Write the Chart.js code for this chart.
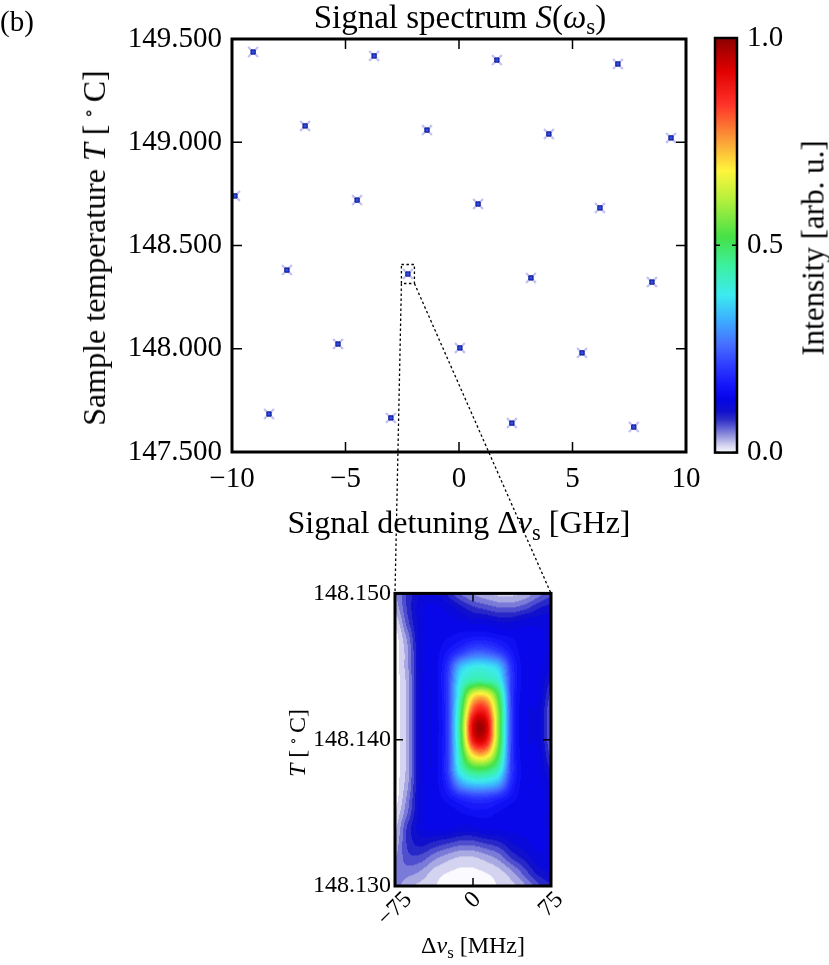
<!DOCTYPE html>
<html>
<head>
<meta charset="utf-8">
<script src="https://cdn.jsdelivr.net/npm/chart.js@4.4.0/dist/chart.umd.min.js"></script>
<style>
body{margin:0;background:#fff;width:829px;height:965px;position:relative;overflow:hidden;font-family:"Liberation Serif","DejaVu Serif",serif;}
canvas{position:absolute;}
.lbl{position:absolute;font-size:32px;white-space:nowrap;transform:translate(-50%,-50%);color:#000;line-height:1;}
.rot{transform:translate(-50%,-50%) rotate(-90deg);}
.small{font-size:24px;}
sub{font-size:0.7em;vertical-align:-0.3em;line-height:0;}
sup{font-size:0.6em;vertical-align:0.5em;line-height:0;}
</style>
</head>
<body>
<canvas id="main" width="829" height="500" style="left:0;top:0"></canvas>
<canvas id="cbar" width="129" height="480" style="left:700px;top:0"></canvas>
<canvas id="inset" width="300" height="390" style="left:280px;top:575px"></canvas>
<canvas id="links" width="829" height="965" style="left:0;top:0;pointer-events:none"></canvas>

<div class="lbl" style="left:17px;top:21px;font-size:29px">(b)</div>
<div class="lbl" style="left:460px;top:17px;font-size:33px">Signal spectrum <i>S</i>(<i>ω</i><sub>s</sub>)</div>
<div class="lbl rot" style="left:94px;top:248px">Sample temperature <i>T</i> [&thinsp;<sup>∘</sup>&thinsp;C]</div>
<div class="lbl" style="left:459px;top:522px">Signal detuning Δ<i>ν</i><sub>s</sub> [GHz]</div>
<div class="lbl rot" style="left:813px;top:248px;font-size:31px">Intensity [arb. u.]</div>
<div class="lbl rot small" style="left:297px;top:743px"><i>T</i> [&thinsp;<sup>∘</sup>&thinsp;C]</div>
<div class="lbl small" style="left:473px;top:945px">Δ<i>ν</i><sub>s</sub> [MHz]</div>

<script>
// spectrum peaks: signal detuning (GHz) and sample temperature (°C)
const detuning = [-9.07,-3.74,1.67,7.0, -6.78,-1.41,3.96,9.34, -9.87,-4.49,0.84,6.21,
                  -7.58,-2.25,3.17,8.5, -5.33,0.04,5.42, -8.37,-3.0,2.33,7.7];
const temperature = [149.437,149.418,149.398,149.379, 149.079,149.059,149.040,149.021,
                     148.740,148.720,148.701,148.682, 148.381,148.362,148.343,148.323,
                     148.023,148.004,147.980, 147.684,147.665,147.640,147.621];
const zoomIndex = 13;

const detuningTicks = [-10,-5,0,5,10];
const temperatureTicks = [147.5,148,148.5,149,149.5];
const intensityTicks = [0,0.5,1];

// zoomed peak (inset): detuning in MHz, temperature rows from top to bottom
const insetDetuning = [-75,-62.5,-50,-37.5,-25,-12.5,0,12.5,25,37.5,50,62.5,75];
const insetTemperature = [148.150,148.149,148.148,148.147,148.146,148.145,148.144,148.143,148.142,148.141,
                          148.140,148.139,148.138,148.137,148.136,148.135,148.134,148.133,148.132,148.131,148.130];
const insetIntensity = [
  [0.04,0.08,0.11,0.11,0.09,0.06,0.04,0.03,0.02,0.02,0.03,0.05,0.07],
  [0.03,0.08,0.12,0.13,0.12,0.10,0.08,0.07,0.06,0.06,0.07,0.09,0.10],
  [0.01,0.07,0.12,0.13,0.13,0.13,0.12,0.12,0.11,0.11,0.12,0.12,0.12],
  [0.00,0.05,0.12,0.13,0.14,0.15,0.16,0.16,0.15,0.14,0.13,0.13,0.12],
  [0.00,0.04,0.12,0.13,0.16,0.20,0.24,0.24,0.21,0.16,0.13,0.13,0.12],
  [0.00,0.04,0.12,0.13,0.19,0.33,0.38,0.38,0.34,0.19,0.13,0.13,0.11],
  [0.00,0.035,0.12,0.13,0.20,0.38,0.45,0.45,0.40,0.20,0.13,0.13,0.09],
  [0.00,0.035,0.12,0.13,0.20,0.42,0.68,0.70,0.50,0.20,0.13,0.13,0.07],
  [0.00,0.035,0.12,0.13,0.20,0.46,0.82,0.85,0.55,0.20,0.13,0.12,0.06],
  [0.00,0.035,0.12,0.13,0.20,0.48,0.92,0.94,0.56,0.20,0.13,0.12,0.06],
  [0.00,0.035,0.12,0.13,0.20,0.47,0.88,0.90,0.55,0.20,0.13,0.12,0.06],
  [0.00,0.035,0.12,0.13,0.20,0.44,0.70,0.72,0.50,0.20,0.13,0.13,0.07],
  [0.00,0.035,0.12,0.13,0.20,0.40,0.50,0.50,0.42,0.20,0.13,0.13,0.09],
  [0.00,0.04,0.12,0.13,0.18,0.30,0.35,0.35,0.31,0.18,0.13,0.13,0.11],
  [0.00,0.05,0.12,0.13,0.15,0.18,0.20,0.20,0.18,0.15,0.13,0.13,0.12],
  [0.01,0.06,0.12,0.13,0.13,0.14,0.15,0.15,0.14,0.13,0.13,0.13,0.12],
  [0.02,0.08,0.12,0.13,0.13,0.12,0.12,0.13,0.13,0.13,0.13,0.13,0.12],
  [0.03,0.08,0.10,0.09,0.08,0.07,0.07,0.08,0.09,0.11,0.12,0.13,0.12],
  [0.04,0.07,0.07,0.05,0.035,0.025,0.025,0.035,0.05,0.08,0.10,0.12,0.12],
  [0.05,0.05,0.04,0.02,0.01,0.005,0.005,0.01,0.02,0.04,0.07,0.10,0.11],
  [0.05,0.03,0.02,0.01,0.00,0.00,0.00,0.00,0.01,0.02,0.04,0.07,0.09]
];
const insetDetuningTicks = [-75,0,75];
const insetTemperatureTicks = [148.13,148.14,148.15];

const FONT = '"Liberation Serif", "DejaVu Serif", serif';
// jet-like colour map that fades to white at zero
const CMAP = [
  [0.00,250,250,255],[0.02,205,205,238],[0.04,150,150,222],[0.06,95,95,210],
  [0.08,45,45,200],[0.10,15,15,205],[0.13,5,5,232],[0.16,20,20,250],
  [0.21,45,60,255],[0.26,70,110,255],[0.32,60,175,255],[0.38,60,235,240],[0.45,60,240,160],
  [0.52,70,225,70],[0.61,180,240,60],[0.68,255,245,60],[0.76,250,150,55],
  [0.84,255,50,40],[0.92,225,0,0],[1.00,140,0,0]
];

function cmap(v){
  v = Math.max(0, Math.min(1, v));
  for(let k=1;k<CMAP.length;k++){
    if(v <= CMAP[k][0]){
      const a = CMAP[k-1], b = CMAP[k];
      const t = (v - a[0])/(b[0] - a[0]);
      return [a[1]+(b[1]-a[1])*t, a[2]+(b[2]-a[2])*t, a[3]+(b[3]-a[3])*t];
    }
  }
  return CMAP[CMAP.length-1].slice(1);
}

function minus(v){ return String(v).replace('-', '\u2212'); }

function setTicks(arr){ return s => { s.ticks = arr.map(v => ({value: v})); }; }

// inward ticks on all four sides plus a heavy frame
const framePlugin = {
  id: 'frame',
  afterDraw(chart, args, opts){
    const {ctx, chartArea: a, scales} = chart;
    const len = opts.tickLength || 10;
    ctx.save();
    ctx.strokeStyle = '#000';
    ctx.lineWidth = 1.5;
    ctx.beginPath();
    if(opts.xTicks !== false){
      scales.x.ticks.forEach(t => {
        const p = scales.x.getPixelForValue(t.value);
        ctx.moveTo(p, a.bottom); ctx.lineTo(p, a.bottom - len);
        ctx.moveTo(p, a.top); ctx.lineTo(p, a.top + len);
      });
    }
    scales.y.ticks.forEach(t => {
      const p = scales.y.getPixelForValue(t.value);
      ctx.moveTo(a.left, p); ctx.lineTo(a.left + len, p);
      ctx.moveTo(a.right, p); ctx.lineTo(a.right - len, p);
    });
    ctx.stroke();
    ctx.lineWidth = opts.frameWidth || 3;
    ctx.strokeRect(a.left, a.top, a.right - a.left, a.bottom - a.top);
    ctx.restore();
  }
};

const mainChart = new Chart(document.getElementById('main'), {
  type: 'scatter',
  data: {
    datasets: [{
      data: detuning.map((x, i) => ({x: x, y: temperature[i]})),
      pointStyle: 'rect',
      pointRadius: 3,
      backgroundColor: '#2a4ee0',
      borderColor: '#12128e',
      borderWidth: 1
    }, {
      data: detuning.map((x, i) => ({x: x, y: temperature[i]})),
      pointStyle: 'crossRot',
      pointRadius: 7,
      borderColor: 'rgba(120,120,230,0.45)',
      borderWidth: 2.2
    }]
  },
  options: {
    responsive: false,
    animation: false,
    layout: {padding: {left: 0, top: 39, right: 143, bottom: 0}},
    plugins: {legend: {display: false}, tooltip: {enabled: false}, frame: {tickLength: 10}},
    scales: {
      x: {
        type: 'linear', min: -10, max: 10,
        afterBuildTicks: setTicks(detuningTicks),
        afterFit: s => { s.height = 48; },
        grid: {display: false, drawTicks: false},
        border: {display: false},
        ticks: {padding: 10, maxRotation: 0, color: '#000', font: {family: FONT, size: 29}, callback: v => minus(v)}
      },
      y: {
        min: 147.5, max: 149.5,
        afterBuildTicks: setTicks(temperatureTicks),
        afterFit: s => { s.width = 232; },
        grid: {display: false, drawTicks: false},
        border: {display: false},
        ticks: {padding: 10, color: '#000', font: {family: FONT, size: 29}, callback: v => Number(v).toFixed(3)}
      }
    }
  },
  plugins: [framePlugin]
});

// colour bar
new Chart(document.getElementById('cbar'), {
  type: 'bar',
  data: {
    labels: [''],
    datasets: [{
      data: [[0, 1]],
      barPercentage: 1,
      categoryPercentage: 1,
      borderWidth: 0,
      backgroundColor: c => {
        const a = c.chart.chartArea;
        if(!a) return '#00f';
        const g = c.chart.ctx.createLinearGradient(0, a.bottom, 0, a.top);
        CMAP.forEach(s => g.addColorStop(s[0], 'rgb(' + s[1] + ',' + s[2] + ',' + s[3] + ')'));
        return g;
      }
    }]
  },
  options: {
    responsive: false,
    animation: false,
    layout: {padding: {left: 15, top: 38, right: 0, bottom: 27}},
    plugins: {legend: {display: false}, tooltip: {enabled: false}, frame: {tickLength: 5, xTicks: false, frameWidth: 2.5}},
    scales: {
      x: {display: false},
      y: {
        position: 'right', min: 0, max: 1,
        afterBuildTicks: setTicks(intensityTicks),
        afterFit: s => { s.width = 92; },
        grid: {display: false, drawTicks: false},
        border: {display: false},
        ticks: {padding: 10, color: '#000', font: {family: FONT, size: 29}, callback: v => Number(v).toFixed(1)}
      }
    }
  },
  plugins: [framePlugin]
});

function catmull(p0, p1, p2, p3, t){
  return 0.5*((2*p1) + (-p0+p2)*t + (2*p0-5*p1+4*p2-p3)*t*t + (-p0+3*p1-3*p2+p3)*t*t*t);
}
function sampleGrid(g, fx, fy){
  const rows = g.length, cols = g[0].length;
  const i = Math.max(0, Math.min(cols-2, Math.floor(fx))), j = Math.max(0, Math.min(rows-2, Math.floor(fy)));
  const tx = fx - i, ty = fy - j;
  const col = c => Math.max(0, Math.min(cols-1, c));
  const row = r => Math.max(0, Math.min(rows-1, r));
  const r = [];
  for(let k=-1;k<=2;k++){
    const R = g[row(j+k)];
    r.push(catmull(R[col(i-1)], R[col(i)], R[col(i+1)], R[col(i+2)], tx));
  }
  return catmull(r[0], r[1], r[2], r[3], ty);
}

const heatPlugin = {
  id: 'heat',
  beforeDatasetsDraw(chart){
    const {ctx, chartArea: a, scales: {x, y}} = chart;
    const w = Math.round(a.right - a.left), h = Math.round(a.bottom - a.top);
    const off = document.createElement('canvas');
    off.width = w; off.height = h;
    const octx = off.getContext('2d');
    const img = octx.createImageData(w, h);
    const dx = insetDetuning[1] - insetDetuning[0];
    const dy = insetTemperature[1] - insetTemperature[0];
    for(let j=0;j<h;j++){
      const fy = (y.getValueForPixel(a.top + j + 0.5) - insetTemperature[0]) / dy;
      for(let i=0;i<w;i++){
        const fx = (x.getValueForPixel(a.left + i + 0.5) - insetDetuning[0]) / dx;
        let v = sampleGrid(insetIntensity, fx, fy);
        v = Math.round(v * 60) / 60;
        const c = cmap(v);
        const p = (j*w + i)*4;
        img.data[p] = c[0]; img.data[p+1] = c[1]; img.data[p+2] = c[2]; img.data[p+3] = 255;
      }
    }
    octx.putImageData(img, 0, 0);
    ctx.drawImage(off, a.left, a.top);
  },
  afterDraw(chart){
    const {ctx, chartArea: a, scales: {x}} = chart;
    ctx.save();
    ctx.fillStyle = '#000';
    ctx.font = '24px ' + FONT;
    ctx.textAlign = 'center';
    ctx.textBaseline = 'middle';
    insetDetuningTicks.forEach(v => {
      const label = minus(v);
      const w = ctx.measureText(label).width;
      const half = (w + 17) * Math.SQRT1_2 / 2;
      ctx.save();
      ctx.translate(x.getPixelForValue(v), a.bottom + 4 + half);
      ctx.rotate(-Math.PI / 4);
      ctx.fillText(label, 0, 0);
      ctx.restore();
    });
    ctx.restore();
  }
};

const insetChart = new Chart(document.getElementById('inset'), {
  type: 'scatter',
  data: {datasets: [{data: []}]},
  options: {
    responsive: false,
    animation: false,
    layout: {padding: {left: 0, top: 16, right: 29, bottom: 0}},
    plugins: {legend: {display: false}, tooltip: {enabled: false}, frame: {tickLength: 8}},
    scales: {
      x: {
        type: 'linear', min: -75, max: 75,
        afterBuildTicks: setTicks(insetDetuningTicks),
        afterFit: s => { s.height = 79; },
        grid: {display: false, drawTicks: false},
        border: {display: false},
        ticks: {display: false}
      },
      y: {
        min: 148.13, max: 148.15,
        afterBuildTicks: setTicks(insetTemperatureTicks),
        afterFit: s => { s.width = 115; },
        grid: {display: false, drawTicks: false},
        border: {display: false},
        ticks: {padding: 4, color: '#000', font: {family: FONT, size: 24}, callback: v => Number(v).toFixed(3)}
      }
    }
  },
  plugins: [heatPlugin, framePlugin]
});

// dashed zoom box and connector lines
const lc = document.getElementById('links').getContext('2d');
const px = mainChart.scales.x.getPixelForValue(detuning[zoomIndex]);
const py = mainChart.scales.y.getPixelForValue(temperature[zoomIndex]);
const ia = insetChart.chartArea;
const ox = 280, oy = 575;
lc.strokeStyle = '#000';
lc.lineWidth = 1.3;
lc.setLineDash([2.5, 2.5]);
lc.strokeRect(px - 6.5, py - 9.5, 13, 19);
lc.beginPath();
lc.moveTo(px - 6.5, py + 9.5); lc.lineTo(ox + ia.left, oy + ia.top);
lc.moveTo(px + 6.5, py + 9.5); lc.lineTo(ox + ia.right, oy + ia.top);
lc.stroke();
</script>
</body>
</html>
